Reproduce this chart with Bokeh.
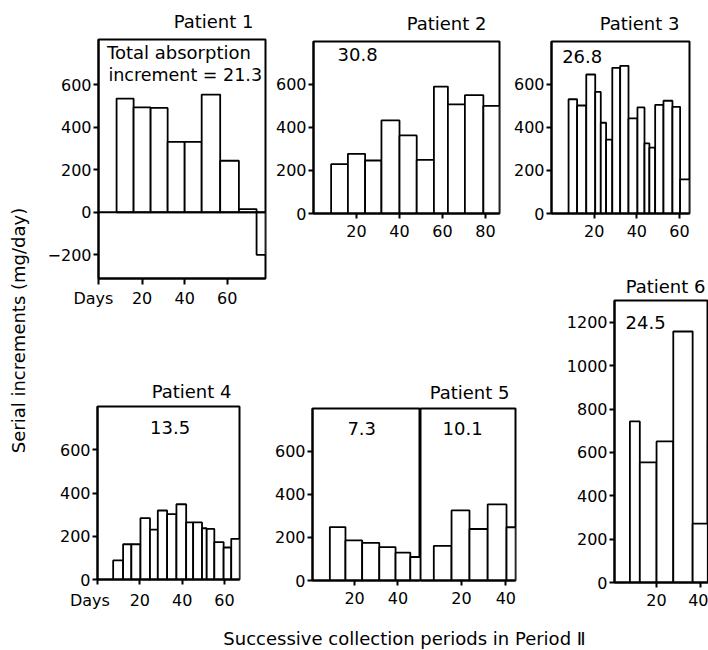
import math
from bokeh.plotting import figure
from bokeh.layouts import row, column
from bokeh.models import Label, Span, FixedTicker, Range1d, ColumnDataSource
from bokeh.embed import file_html
from bokeh.resources import INLINE

FONT = "DejaVu Sans"

# ---------------- data ----------------
PATIENTS = ["Patient 1", "Patient 2", "Patient 3", "Patient 4", "Patient 5", "Patient 6"]
TOTALS = ["21.3", "30.8", "26.8", "13.5", "7.3", "10.1", "24.5"]

# collection-period boundaries (days) and serial increments (mg/day)
P1_DAYS = [8, 16, 24, 32, 40, 48, 56.7, 65.5, 73.8, 78]
P1_INCR = [534, 493, 490, 331, 331, 553, 242, 15, -200]
P2_DAYS = [8.2, 16, 24, 31.6, 40, 48, 56, 62.5, 70.4, 79, 86.5]
P2_INCR = [229, 277, 246, 432, 362, 249, 589, 506, 549, 499]
P3_DAYS = [8, 12, 16.3, 20.5, 23.1, 25.6, 28.5, 32.2, 36.1, 40.3, 43.6, 45.9, 48.6, 52.5, 56.7, 60.3, 64.7]
P3_INCR = [530, 501, 645, 564, 421, 343, 676, 685, 441, 492, 325, 306, 504, 523, 495, 158]
P4_DAYS = [7.4, 12.1, 16, 20.3, 24.8, 28.5, 32.9, 37.3, 41.9, 45.2, 49.4, 51.6, 55.2, 59.6, 63.2, 67.2]
P4_INCR = [88, 163, 163, 284, 231, 319, 302, 348, 264, 264, 237, 234, 173, 148, 188]
P5A_DAYS = [8.6, 15.8, 23.5, 31.4, 38.9, 45.7, 50.4]
P5A_INCR = [248, 186, 175, 155, 129, 109]
P5B_DAYS = [7.5, 15.5, 23.6, 31.8, 40.3, 44.4]
P5B_INCR = [161, 325, 239, 353, 247]
P6_DAYS = [7.9, 12.4, 20, 27.6, 36.4, 43.3, 50]
P6_INCR = [743, 554, 651, 1158, 272, 650]

Y_TICKS_1 = [-200, 0, 200, 400, 600]
Y_TICKS = [0, 200, 400, 600]
Y_TICKS_6 = [0, 200, 400, 600, 800, 1000, 1200]
X_TICKS = [20, 40, 60]
X_TICKS_2 = [20, 40, 60, 80]
X_TICKS_5 = [20, 40]
DAYS_TEXT = "Days"

Y_LABEL = "Serial increments (mg/day)"
X_LABEL = "Successive collection periods in Period \u2161"


# ---------------- helpers ----------------
def no_align(p):
    try:
        p.frame_align = False
    except Exception:
        pass


def panel(w, h, borders, xr, yr, xticks, yticks, title=None, yaxis=True,
          xstand=6, xtick=5):
    l, r, t, b = borders
    p = figure(width=w, height=h, output_backend="svg", toolbar_location=None,
               title=title, x_range=Range1d(*xr), y_range=Range1d(*yr),
               min_border_left=l, min_border_right=r,
               min_border_top=t, min_border_bottom=b,
               y_axis_location="left" if yaxis else None)
    no_align(p)
    p.xgrid.visible = False
    p.ygrid.visible = False
    p.outline_line_color = "black"
    p.outline_line_width = 2
    p.outline_line_alpha = 1
    p.background_fill_color = "white"
    p.border_fill_color = "white"
    for ax in p.axis:
        ax.axis_line_width = 2
        ax.axis_line_color = "black"
        ax.major_tick_line_width = 2
        ax.major_tick_line_color = "black"
        ax.major_tick_in = 0
        ax.major_tick_out = 5
        ax.minor_tick_line_color = None
        ax.major_label_text_font = FONT
        ax.major_label_text_font_size = "16px"
        ax.major_label_text_color = "black"
    p.xaxis.ticker = FixedTicker(ticks=xticks)
    p.xaxis.major_label_standoff = xstand
    p.xaxis.major_tick_out = xtick
    if yaxis:
        p.yaxis.ticker = FixedTicker(ticks=yticks)
        p.yaxis.major_label_standoff = 2
    if title is not None:
        p.title.text_font = FONT
        p.title.text_font_size = "18px"
        p.title.text_font_style = "normal"
        p.title.text_color = "black"
        p.title.align = "right"
    return p


def set_title(p, offset, standoff):
    p.title.offset = offset
    p.title.standoff = standoff


def days_tick(p, start, xticks, pad):
    # the "Days" caption sits on the x-axis row at the left end of the axis
    p.xaxis.ticker = FixedTicker(ticks=[start] + xticks)
    p.xaxis.major_label_overrides = {start: DAYS_TEXT + "\u00a0" * pad}


def bars(p, days, incr):
    src = ColumnDataSource(dict(
        left=days[:-1], right=days[1:],
        top=[max(v, 0) for v in incr], bottom=[min(v, 0) for v in incr]))
    p.quad(left="left", right="right", top="top", bottom="bottom", source=src,
           fill_color="white", line_color="black", line_width=1.8)


def note(p, x, y, text, size="18px", align="left"):
    p.add_layout(Label(x=x, y=y, text=text, text_font=FONT, text_font_size=size,
                       text_align=align, text_baseline="middle", text_color="black"))


# ---------------- panels ----------------
# Patient 1
P1_X0 = -0.5
p1 = panel(230, 310, (58, 5, 39, 31), (P1_X0, 78.0), (-311, 811.5), X_TICKS, Y_TICKS_1,
           title=PATIENTS[0], xstand=4, xtick=6)
set_title(p1, 12, 15)
days_tick(p1, P1_X0, X_TICKS, 2)
bars(p1, P1_DAYS, P1_INCR)
p1.add_layout(Span(location=0, dimension="width", line_color="black", line_width=2))
note(p1, 3.5, 751, "Total absorption")
note(p1, 4.15, 645, "increment = " + TOTALS[0], size="17.5px")

# Patient 4
P4_X0 = 0
p4 = panel(230, 302, (57, 31, 96, 33), (P4_X0, 67.1), (0, 800), X_TICKS, Y_TICKS,
           title=PATIENTS[3])
set_title(p4, 8, 10)
days_tick(p4, P4_X0, X_TICKS, 3)
bars(p4, P4_DAYS, P4_INCR)
note(p4, 34.3, 703, TOTALS[3], align="center")

# Patient 2
p2 = panel(238, 260, (43, 9, 41, 47), (0, 86.5), (0, 798), X_TICKS_2, Y_TICKS,
           title=PATIENTS[1])
set_title(p2, 13, 16)
bars(p2, P2_DAYS, P2_INCR)
note(p2, 11.2, 738, TOTALS[1])

# Patient 3
p3 = panel(200, 260, (43, 19, 41, 47), (0, 64.7), (0, 798), X_TICKS, Y_TICKS,
           title=PATIENTS[2])
set_title(p3, 10, 15)
bars(p3, P3_DAYS, P3_INCR)
note(p3, 5.0, 730, TOTALS[2])

# Patient 5 (two successive series sharing one frame)
p5a = panel(150, 352, (42, 0, 148, 32), (0.6, 50.4), (0, 798), X_TICKS_5, Y_TICKS)
bars(p5a, P5A_DAYS, P5A_INCR)
note(p5a, 23.3, 705, TOTALS[4], align="center")

p5b = panel(110, 352, (0, 15, 148, 32), (1.5, 44.35), (0, 798), X_TICKS_5, Y_TICKS,
            title=PATIENTS[4], yaxis=False)
set_title(p5b, 6, 11)
bars(p5b, P5B_DAYS, P5B_INCR)
note(p5b, 20.5, 707, TOTALS[5], align="center")

# Patient 6
p6 = panel(178, 352, (84, 0, 40, 30), (0.9, 43.6), (0, 1301), X_TICKS_5, Y_TICKS_6,
           title=PATIENTS[5])
set_title(p6, 3, 8)
bars(p6, P6_DAYS, P6_INCR)
note(p6, 5.9, 1201, TOTALS[6])


def blank(w, h):
    f = figure(width=w, height=h, output_backend="svg", toolbar_location=None, title=None,
               x_range=Range1d(0, w), y_range=Range1d(h, 0),
               min_border=0, x_axis_location=None, y_axis_location=None)
    no_align(f)
    f.xgrid.visible = False
    f.ygrid.visible = False
    f.outline_line_color = None
    return f


ylab = blank(40, 612)
ylab.add_layout(Label(x=18, y=330, text=Y_LABEL, angle=math.pi / 2, text_font=FONT,
                      text_font_size="18px", text_align="center", text_baseline="middle",
                      text_color="black"))

xlab = blank(708, 38)
xlab.add_layout(Label(x=404, y=25.5, text=X_LABEL, text_font=FONT, text_font_size="18px",
                      text_align="center", text_baseline="middle", text_color="black"))

left_block = column(p1, p4)
right_block = column(row(p2, p3), row(p5a, p5b, p6))
layout = column(row(ylab, left_block, right_block), xlab)

open("out.html", "w").write(file_html(layout, INLINE))
